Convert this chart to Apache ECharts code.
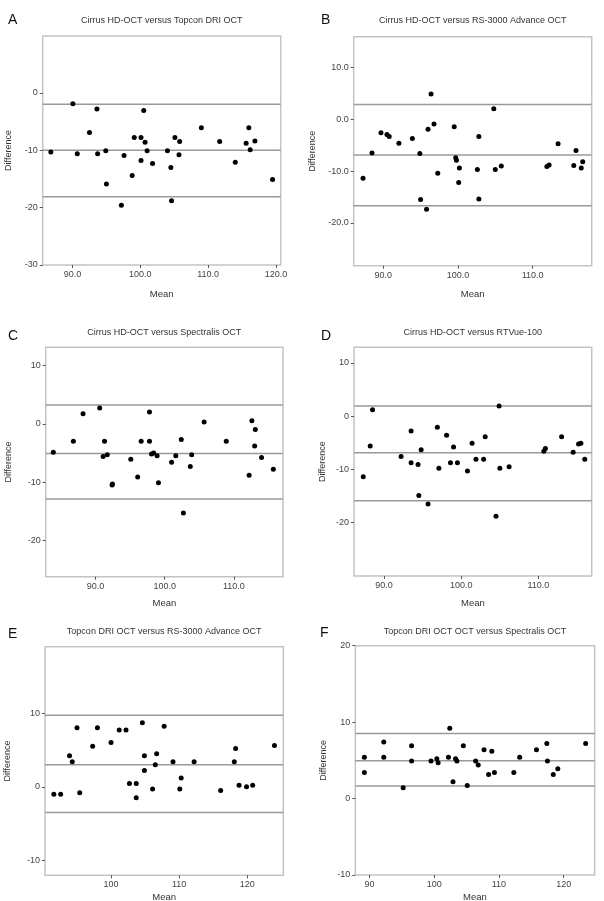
<!DOCTYPE html>
<html>
<head>
<meta charset="utf-8">
<script src="https://cdn.jsdelivr.net/npm/echarts@6/dist/echarts.min.js"></script>
<style>
  html, body { margin: 0; padding: 0; background: #fff; }
  #chart { width: 604px; height: 901px; }
</style>
</head>
<body>
<div id="chart"></div>
<script>
// A: Cirrus HD-OCT versus Topcon DRI OCT
const aMean = [86.8, 90.05, 90.7, 92.5, 93.6, 93.7, 94.9, 95.0, 97.2, 97.6, 98.8, 99.1, 100.1, 100.1, 100.5, 100.7,
  101.0, 101.8, 104.0, 104.5, 104.6, 105.1, 105.7, 105.8, 109.0, 111.7, 114.0, 115.6, 116.0, 116.2, 116.9, 119.5]
const aDiff = [-10.3, -1.9, -10.6, -6.9, -2.8, -10.6, -10.1, -15.9, -19.6, -10.9, -14.4, -7.8, -7.8, -11.8, -3.1, -8.6,
  -10.1, -12.3, -10.1, -13.0, -18.8, -7.8, -10.8, -8.5, -6.1, -8.5, -12.1, -8.8, -6.1, -9.9, -8.4, -15.1]
const aLimits = [-2.0, -10.0, -18.1]
const aXTicks = [90, 100, 110, 120]
const aYTicks = [0, -10, -20, -30]

// B: Cirrus HD-OCT versus RS-3000 Advance OCT
const bMean = [87.3, 88.5, 89.7, 90.5, 90.8, 92.1, 93.9, 94.9, 95.0, 95.8, 96.0, 96.4, 96.8, 97.3, 99.5, 99.7,
  99.8, 100.2, 100.1, 102.6, 102.8, 102.8, 104.8, 105.0, 105.8, 111.9, 112.2, 113.4, 115.5, 115.8, 116.5, 116.7]
const bDiff = [-11.4, -6.5, -2.6, -2.9, -3.3, -4.6, -3.7, -6.6, -15.5, -17.4, -1.9, 4.9, -0.9, -10.4, -1.4, -7.4,
  -7.9, -9.4, -12.2, -9.7, -3.3, -15.4, 2.05, -9.7, -9.0, -9.1, -8.8, -4.7, -8.9, -6.0, -9.4, -8.2]
const bLimits = [2.9, -6.9, -16.7]
const bXTicks = [90, 100, 110]
const bYTicks = [10, 0, -10, -20]

// C: Cirrus HD-OCT versus Spectralis OCT
const cMean = [83.9, 86.8, 88.2, 90.6, 91.1, 91.3, 91.7, 92.4, 92.45, 95.1, 96.1, 96.6, 97.8, 97.8, 98.1, 98.4,
  98.9, 99.1, 101.0, 101.6, 102.4, 102.7, 103.7, 103.9, 105.7, 108.9, 112.2, 112.6, 113.1, 113.0, 114.0, 115.7]
const cDiff = [-4.9, -3.0, 1.7, 2.7, -5.6, -3.0, -5.3, -10.5, -10.3, -6.1, -9.1, -3.0, 2.0, -3.0, -5.2, -5.0,
  -5.5, -10.1, -6.6, -5.5, -2.7, -15.3, -7.3, -5.3, 0.3, -3.0, -8.8, 0.5, -1.0, -3.8, -5.8, -7.8]
const cLimits = [3.2, -5.1, -12.9]
const cXTicks = [90, 100, 110]
const cYTicks = [10, 0, -10, -20]

// D: Cirrus HD-OCT versus RTVue-100
const dMean = [87.3, 88.2, 88.5, 92.2, 93.5, 93.5, 94.4, 94.5, 94.8, 95.7, 96.9, 97.1, 98.1, 98.6, 99.0, 99.5,
  100.8, 101.4, 101.9, 102.9, 103.1, 104.5, 104.9, 105.0, 106.2, 110.7, 110.9, 113.0, 114.5, 115.2, 115.5, 116.0]
const dDiff = [-11.4, -5.6, 1.2, -7.6, -2.8, -8.75, -9.1, -14.9, -6.3, -16.5, -2.1, -9.8, -3.6, -8.75, -5.8, -8.75,
  -10.3, -5.1, -8.1, -8.1, -3.9, -18.8, 1.9, -9.8, -9.5, -6.6, -6.1, -3.9, -6.8, -5.25, -5.1, -8.1]
const dLimits = [1.9, -6.9, -15.9]
const dXTicks = [90, 100, 110]
const dYTicks = [10, 0, -10, -20]

// E: Topcon DRI OCT versus RS-3000 Advance OCT
const eMean = [91.6, 92.6, 93.9, 94.3, 95.0, 95.4, 97.3, 98.0, 100.0, 101.2, 102.2, 102.7, 103.7, 103.7, 104.6, 104.9,
  104.9, 106.1, 106.5, 106.7, 107.8, 109.1, 110.1, 110.3, 112.2, 116.1, 118.1, 118.3, 118.8, 119.9, 120.8, 124.0]
const eDiff = [-1.0, -1.0, 4.2, 3.4, 8.0, -0.8, 5.5, 8.0, 6.0, 7.7, 7.7, 0.45, 0.45, -1.5, 8.7, 4.2,
  2.2, -0.3, 3.0, 4.5, 8.2, 3.4, -0.3, 1.2, 3.4, -0.5, 3.4, 5.2, 0.2, 0.0, 0.2, 5.6]
const eLimits = [9.7, 3.0, -3.5]
const eXTicks = [100, 110, 120]
const eYTicks = [10, 0, -10]

// F: Topcon DRI OCT OCT versus Spectralis OCT
const fMean = [89.2, 89.2, 92.2, 92.2, 95.2, 96.5, 96.5, 99.5, 100.4, 100.6, 102.2, 102.4, 102.9, 103.3, 103.5, 104.5,
  105.1, 106.4, 106.8, 107.7, 108.4, 108.9, 109.3, 112.3, 113.2, 115.8, 117.4, 117.5, 118.4, 119.1, 123.4]
const fDiff = [5.4, 3.4, 7.4, 5.4, 1.4, 6.9, 4.9, 4.9, 5.2, 4.7, 5.4, 9.2, 2.2, 5.2, 4.9, 6.9,
  1.7, 4.9, 4.4, 6.4, 3.15, 6.2, 3.4, 3.4, 5.4, 6.4, 7.2, 4.9, 3.15, 3.9, 7.2]
const fLimits = [8.5, 4.95, 1.65]
const fXTicks = [90, 100, 110, 120]
const fYTicks = [20, 10, 0, -10]

const FONT = 'Liberation Sans, Arial, sans-serif'

// 每个小图的位置和坐标范围
const panels = [
  { letter: 'A', title: 'Cirrus HD-OCT versus Topcon DRI OCT', mean: aMean, diff: aDiff, limits: aLimits,
    xTicks: aXTicks, yTicks: aYTicks, xRange: [85.6, 120.7], yRange: [-30, 9.9], xDec: 1, yDec: 0,
    box: [42.7, 36, 238, 229], yGap: 30, xGap: 24, letterPos: [8, 13], titleY: 21 },
  { letter: 'B', title: 'Cirrus HD-OCT versus RS-3000 Advance OCT', mean: bMean, diff: bDiff, limits: bLimits,
    xTicks: bXTicks, yTicks: bYTicks, xRange: [86.05, 117.9], yRange: [-28.3, 16.0], xDec: 1, yDec: 1,
    box: [353.7, 36.7, 238, 229], yGap: 37, xGap: 24, letterPos: [321, 13], titleY: 21 },
  { letter: 'C', title: 'Cirrus HD-OCT versus Spectralis OCT', mean: cMean, diff: cDiff, limits: cLimits,
    xTicks: cXTicks, yTicks: cYTicks, xRange: [82.8, 117.1], yRange: [-26.2, 13.1], xDec: 1, yDec: 0,
    box: [45.7, 347.3, 237.3, 229.4], yGap: 33, xGap: 22, letterPos: [8, 329], titleY: 333 },
  { letter: 'D', title: 'Cirrus HD-OCT versus RTVue-100', mean: dMean, diff: dDiff, limits: dLimits,
    xTicks: dXTicks, yTicks: dYTicks, xRange: [86.1, 116.9], yRange: [-30, 12.9], xDec: 1, yDec: 0,
    box: [354, 347.3, 237.7, 228.7], yGap: 27, xGap: 22, letterPos: [321, 329], titleY: 333 },
  { letter: 'E', title: 'Topcon DRI OCT versus RS-3000 Advance OCT', mean: eMean, diff: eDiff, limits: eLimits,
    xTicks: eXTicks, yTicks: eYTicks, xRange: [90.3, 125.3], yRange: [-12.0, 19.0], xDec: 0, yDec: 0,
    box: [45, 646.7, 238.3, 228.6], yGap: 33, xGap: 17, letterPos: [8, 627], titleY: 632 },
  { letter: 'F', title: 'Topcon DRI OCT OCT versus Spectralis OCT', mean: fMean, diff: fDiff, limits: fLimits,
    xTicks: fXTicks, yTicks: fYTicks, xRange: [87.8, 124.8], yRange: [-10, 20], xDec: 0, yDec: 0,
    box: [355.3, 645.7, 239.4, 229.3], yGap: 27, xGap: 17, letterPos: [320, 626], titleY: 632 }
]

const chart = echarts.init(document.getElementById('chart'), null, { renderer: 'canvas' })

const grid = []
const xAxis = []
const yAxis = []
const series = []
const graphic = []

panels.forEach((p, i) => {
  grid.push({
    left: p.box[0], top: p.box[1], width: p.box[2], height: p.box[3],
    show: true, borderColor: '#c4c4c4', borderWidth: 1.5, backgroundColor: '#fff',
    containLabel: false, outerBoundsMode: 'none'
  })
  xAxis.push({
    type: 'value', gridIndex: i, min: p.xRange[0], max: p.xRange[1],
    name: 'Mean', nameLocation: 'middle', nameGap: p.xGap,
    nameTextStyle: { fontFamily: FONT, fontSize: 9.5, color: '#333' },
    axisLine: { show: false, onZero: false },
    axisTick: { show: true, length: 3, lineStyle: { color: '#555' }, customValues: p.xTicks },
    axisLabel: {
      fontFamily: FONT, fontSize: 9, color: '#444', margin: 5,
      customValues: p.xTicks, formatter: v => v.toFixed(p.xDec)
    },
    splitLine: { show: false }
  })
  yAxis.push({
    type: 'value', gridIndex: i, min: p.yRange[0], max: p.yRange[1],
    name: 'Difference', nameLocation: 'middle', nameGap: p.yGap,
    nameTextStyle: { fontFamily: FONT, fontSize: 9, color: '#333' },
    axisLine: { show: false, onZero: false },
    axisTick: { show: true, length: 3, lineStyle: { color: '#555' }, customValues: p.yTicks },
    axisLabel: {
      fontFamily: FONT, fontSize: 9, color: '#444', margin: 5,
      customValues: p.yTicks, formatter: v => v.toFixed(p.yDec)
    },
    splitLine: { show: false }
  })
  // 均值线和一致性界限
  p.limits.forEach(v => {
    series.push({
      type: 'line', xAxisIndex: i, yAxisIndex: i, silent: true, z: 1,
      data: [[p.xRange[0], v], [p.xRange[1], v]],
      symbol: 'none',
      lineStyle: { color: '#9a9a9a', width: 1.5 }
    })
  })
  series.push({
    type: 'scatter', xAxisIndex: i, yAxisIndex: i, z: 3,
    data: p.mean.map((m, k) => [m, p.diff[k]]),
    symbolSize: 5,
    itemStyle: { color: '#000', opacity: 1 }
  })
  graphic.push({
    type: 'text', left: p.letterPos[0], top: p.letterPos[1],
    style: { text: p.letter, font: '14px ' + FONT, fill: '#111' }
  })
  graphic.push({
    type: 'text', x: p.box[0] + p.box[2] / 2, y: p.titleY,
    style: { text: p.title, font: '9px ' + FONT, fill: '#333', textAlign: 'center', textVerticalAlign: 'middle' }
  })
})

chart.setOption({
  animation: false,
  backgroundColor: '#fff',
  grid, xAxis, yAxis, series, graphic
})
</script>
</body>
</html>
